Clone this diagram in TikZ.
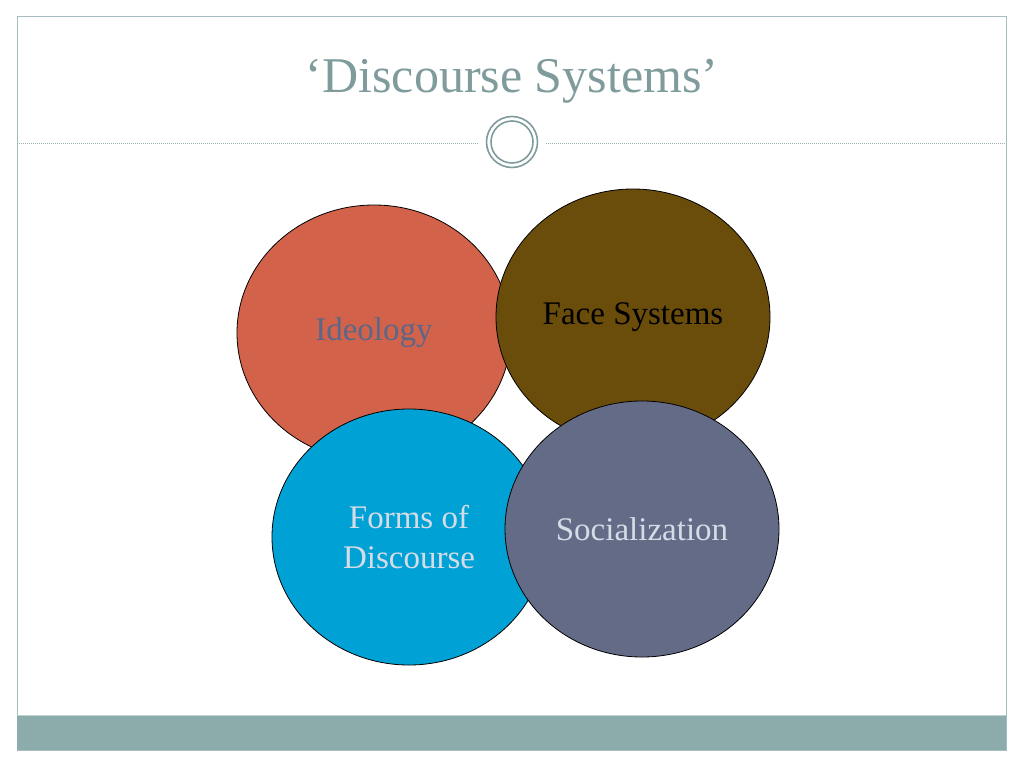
\documentclass[tikz,border=0pt]{standalone}
\usepackage{fontspec}
\setmainfont{Liberation Serif}
\usetikzlibrary{shapes.geometric}
\definecolor{ideored}{HTML}{D2634A}
\definecolor{facebrown}{HTML}{6A4C0B}
\definecolor{formsblue}{HTML}{00A2D6}
\definecolor{socialslate}{HTML}{646B87}
\definecolor{paletext}{HTML}{D5DCE6}
\definecolor{ideotext}{HTML}{5A6788}
\definecolor{titleteal}{HTML}{7F9B9C}
\definecolor{frameteal}{HTML}{A5BDBE}
\definecolor{barteal}{HTML}{8CABAB}
\tikzset{
  blob/.style={ellipse, draw=black, line width=0.8pt, inner sep=0pt,
    minimum width=274pt, minimum height=256pt,
    font=\fontsize{33}{40}\selectfont, align=center},
  ring/.style={draw=titleteal, line width=1.6pt, circle, inner sep=0pt},
  rule/.style={draw=titleteal!80!white, line width=1pt, dash pattern=on 1pt off 1pt}
}
\begin{document}
\begin{tikzpicture}[x=1pt,y=-1pt]
\useasboundingbox[fill=white] (0,0) rectangle (1024,768);
% slide frame and footer bar
\draw[frameteal, line width=1pt] (17,17) rectangle (1006,750);
\fill[barteal] (17,715) rectangle (1006,750);
\draw[frameteal!70!white, line width=1pt] (17,715) -- (1006,715);

% title
\node[text=titleteal, font=\fontsize{50}{52}\selectfont] (title) at (512,81) {`Discourse Systems'};

% ornament on the rule
\node[ring, minimum size=51pt] (ringout) at (512,142) {};
\node[ring, minimum size=42pt] (ringin) at (512,142) {};
\coordinate (ruleL) at (17,143);
\coordinate (ruleR) at (1006,143);
\coordinate (gapL) at (479,143);
\coordinate (gapR) at (546,143);
\draw[rule] (ruleL) -- (gapL);
\draw[rule] (gapR) -- (ruleR);

% the four circles
\node[blob, fill=ideored, text=ideotext] (ideo) at (374,333) {Ideology};
\node[blob, fill=facebrown, text=black] (face) at (633,317) {Face Systems};
\node[blob, fill=formsblue, text=paletext] (forms) at (409,537) {Forms of\\Discourse};
\node[blob, fill=socialslate, text=paletext] (social) at (642,529) {Socialization};
\end{tikzpicture}
\end{document}
